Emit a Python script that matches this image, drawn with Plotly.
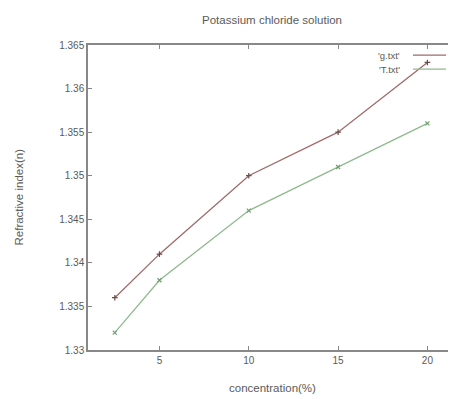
import plotly.graph_objects as go

concentration = [2.5, 5, 10, 15, 20]
g_values = [1.336, 1.341, 1.350, 1.355, 1.363]
t_values = [1.332, 1.338, 1.346, 1.351, 1.356]
series_names = ["'g.txt'", "'T.txt'"]
x_ticks = [5, 10, 15, 20]
y_ticks = [1.33, 1.335, 1.34, 1.345, 1.35, 1.355, 1.36, 1.365]
y_tick_labels = ["1.33", "1.335", "1.34", "1.345", "1.35", "1.355", "1.36", "1.365"]

red = "#a06a6a"
green = "#8fba8f"
text_color = "#5a5a5a"
axis_color = "#888888"
font_family = "Liberation Sans, Arial, sans-serif"

fig = go.Figure()
fig.add_trace(go.Scatter(
    x=concentration, y=g_values, mode="lines+markers", name=series_names[0],
    line=dict(color=red, width=1.3),
    marker=dict(symbol="cross-thin", size=4, line=dict(color="#6a4a4a", width=1.2)),
    showlegend=False,
))
fig.add_trace(go.Scatter(
    x=concentration, y=t_values, mode="lines+markers", name=series_names[1],
    line=dict(color=green, width=1.3),
    marker=dict(symbol="x-thin", size=4, line=dict(color="#6f9f6f", width=1.2)),
    showlegend=False,
))

# manual gnuplot-style key (text left, sample right)
key_rows = [(0.967, series_names[0], red), (0.921, series_names[1], green)]
for yk, name, col in key_rows:
    fig.add_annotation(x=0.853, y=yk, xref="paper", yref="paper", text=name,
                       showarrow=False, xanchor="right", yanchor="middle",
                       font=dict(size=9.5, color=text_color, family=font_family))
    fig.add_shape(type="line", xref="paper", yref="paper", x0=0.883, x1=0.973,
                  y0=yk, y1=yk, line=dict(color=col, width=1.3))

# axis titles as annotations (positioned like gnuplot)
fig.add_annotation(text="concentration(%)", xref="paper", yref="paper",
                   x=0.5, y=0, yshift=-38, showarrow=False, yanchor="middle",
                   font=dict(size=11.5, color=text_color))
fig.add_annotation(text="Refractive index(n)", xref="paper", yref="paper",
                   x=0, y=0.5, xshift=-70, showarrow=False, textangle=-90,
                   xanchor="center", font=dict(size=11.5, color=text_color))

# page body has an 8px margin, so the figure is 8px smaller on each axis
fig.update_layout(
    width=448, height=391,
    margin=dict(l=80, r=0, t=37, b=49, autoexpand=False),
    paper_bgcolor="white", plot_bgcolor="white",
    font=dict(family=font_family, size=10, color=text_color),
    title=dict(text="Potassium chloride solution", x=0.5, xref="paper", xanchor="center",
               y=0.969, yref="container", yanchor="middle",
               font=dict(size=11.5, color=text_color)),
)
fig.update_xaxes(
    range=[1, 21.6], tickvals=x_ticks, ticks="inside", ticklen=4, tickcolor=axis_color,
    showline=True, linecolor=axis_color, linewidth=1.5, mirror="ticks",
    showgrid=False, zeroline=False, automargin=False,
)
fig.update_yaxes(
    range=[1.33, 1.365], tickvals=y_ticks, ticktext=y_tick_labels, ticks="inside",
    ticklen=4, tickcolor=axis_color,
    showline=True, linecolor=axis_color, linewidth=1.5, mirror=False,
    showgrid=False, zeroline=False, automargin=False,
)

fig.write_html("out.html")
